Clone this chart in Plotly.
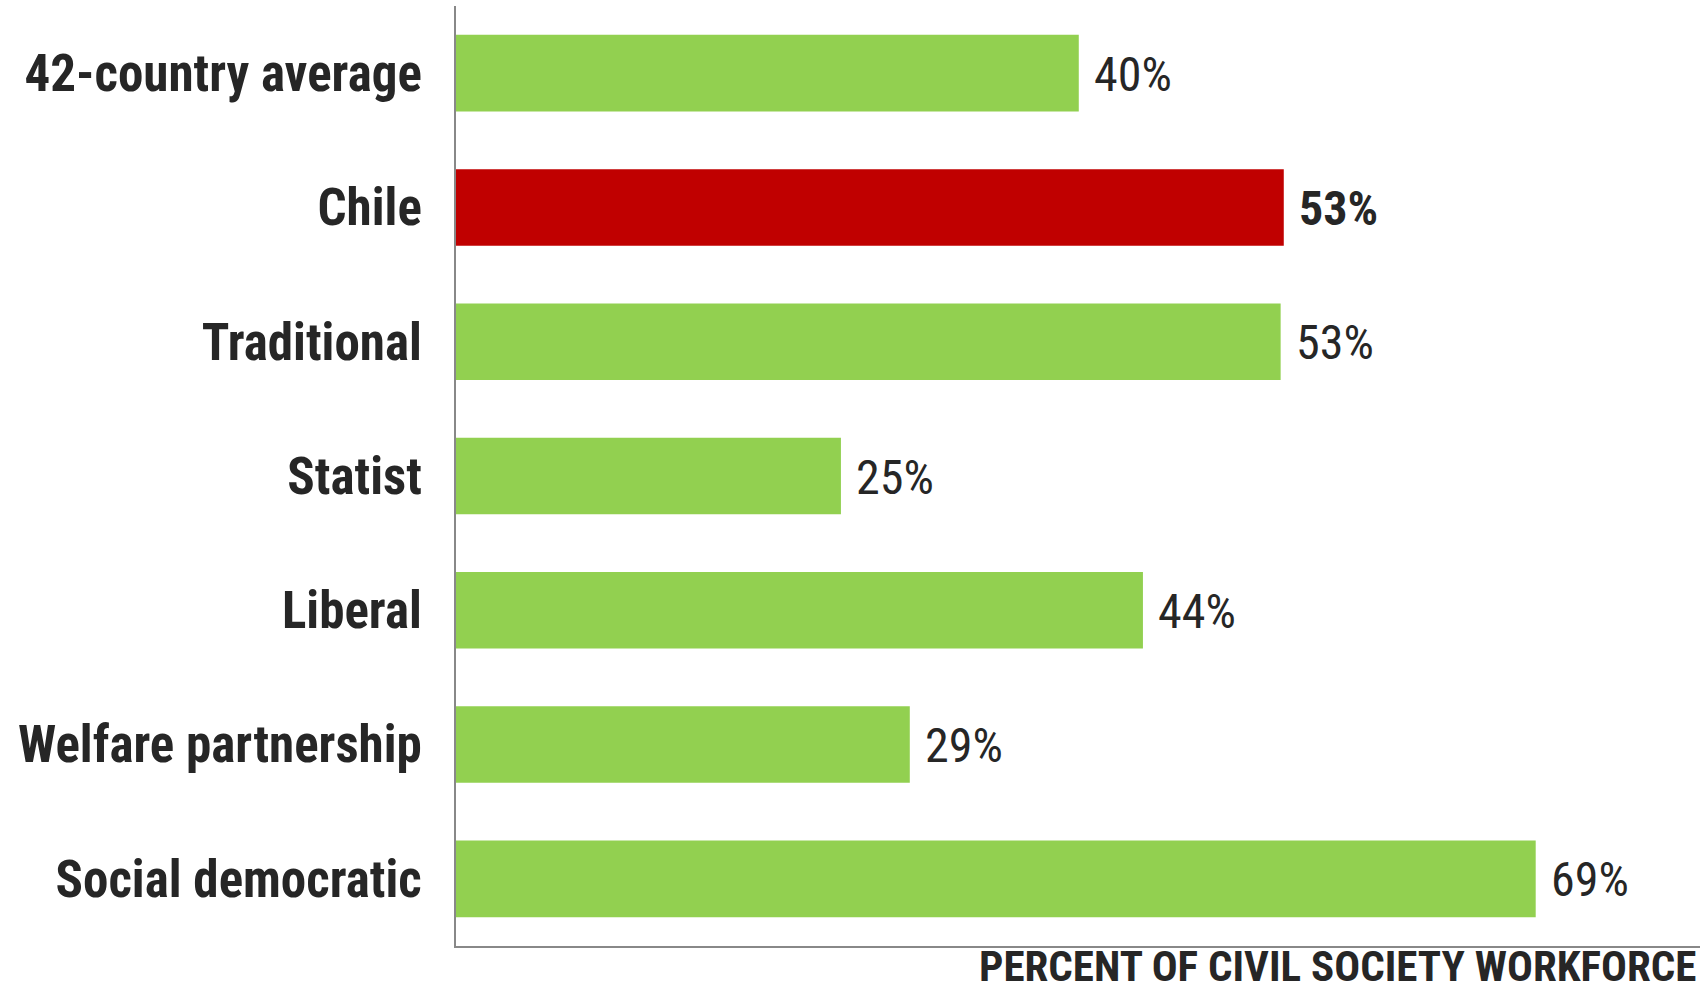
import plotly.graph_objects as go

categories = ["42-country average", "Chile", "Traditional", "Statist", "Liberal",
              "Welfare partnership", "Social democratic"]
values = [39.8, 52.9, 52.7, 24.6, 43.9, 29.0, 69.0]
labels = ["40%", "53%", "53%", "25%", "44%", "29%", "69%"]
highlight = "Chile"

GREEN = "#92D050"
RED = "#C00000"
TXT = "#262626"
FONT = "Roboto Condensed, Liberation Sans Narrow, Arial Narrow, sans-serif"

colors = [RED if c == highlight else GREEN for c in categories]

fig = go.Figure(go.Bar(
    y=categories, x=values, orientation="h",
    marker=dict(color=colors, line=dict(width=0)),
    width=0.57, hoverinfo="skip",
))

for c, v, t in zip(categories, values, labels):
    bold = c == highlight
    fig.add_annotation(
        x=v, y=c, xref="x", yref="y", text=f"<b>{t}</b>" if bold else t,
        showarrow=False, xanchor="left", yanchor="middle", xshift=13, yshift=-1,
        font=dict(family=FONT, size=48, color=TXT),
    )

fig.add_annotation(
    x=1, y=-46 / 940, xref="paper", yref="paper", xanchor="right", yanchor="bottom",
    showarrow=False, xshift=-3, borderpad=0,
    text="<b>PERCENT OF CIVIL SOCIETY WORKFORCE</b>",
    font=dict(family=FONT, size=43, color=TXT),
)

fig.update_layout(
    width=1707, height=993,
    margin=dict(l=456, r=7, t=6, b=47),
    paper_bgcolor="white", plot_bgcolor="white",
    showlegend=False,
    xaxis=dict(range=[0, 79.5], showgrid=False, zeroline=False, showticklabels=False,
               showline=True, linecolor="#888888", linewidth=2, ticks=""),
    yaxis=dict(categoryorder="array", categoryarray=categories, autorange="reversed",
               showgrid=False, zeroline=False, showline=True, linecolor="#888888",
               linewidth=2, ticks="", ticklabelstandoff=22,
               tickfont=dict(family=FONT, size=51, color=TXT, weight="bold")),
)

fig.write_html("out.html")
